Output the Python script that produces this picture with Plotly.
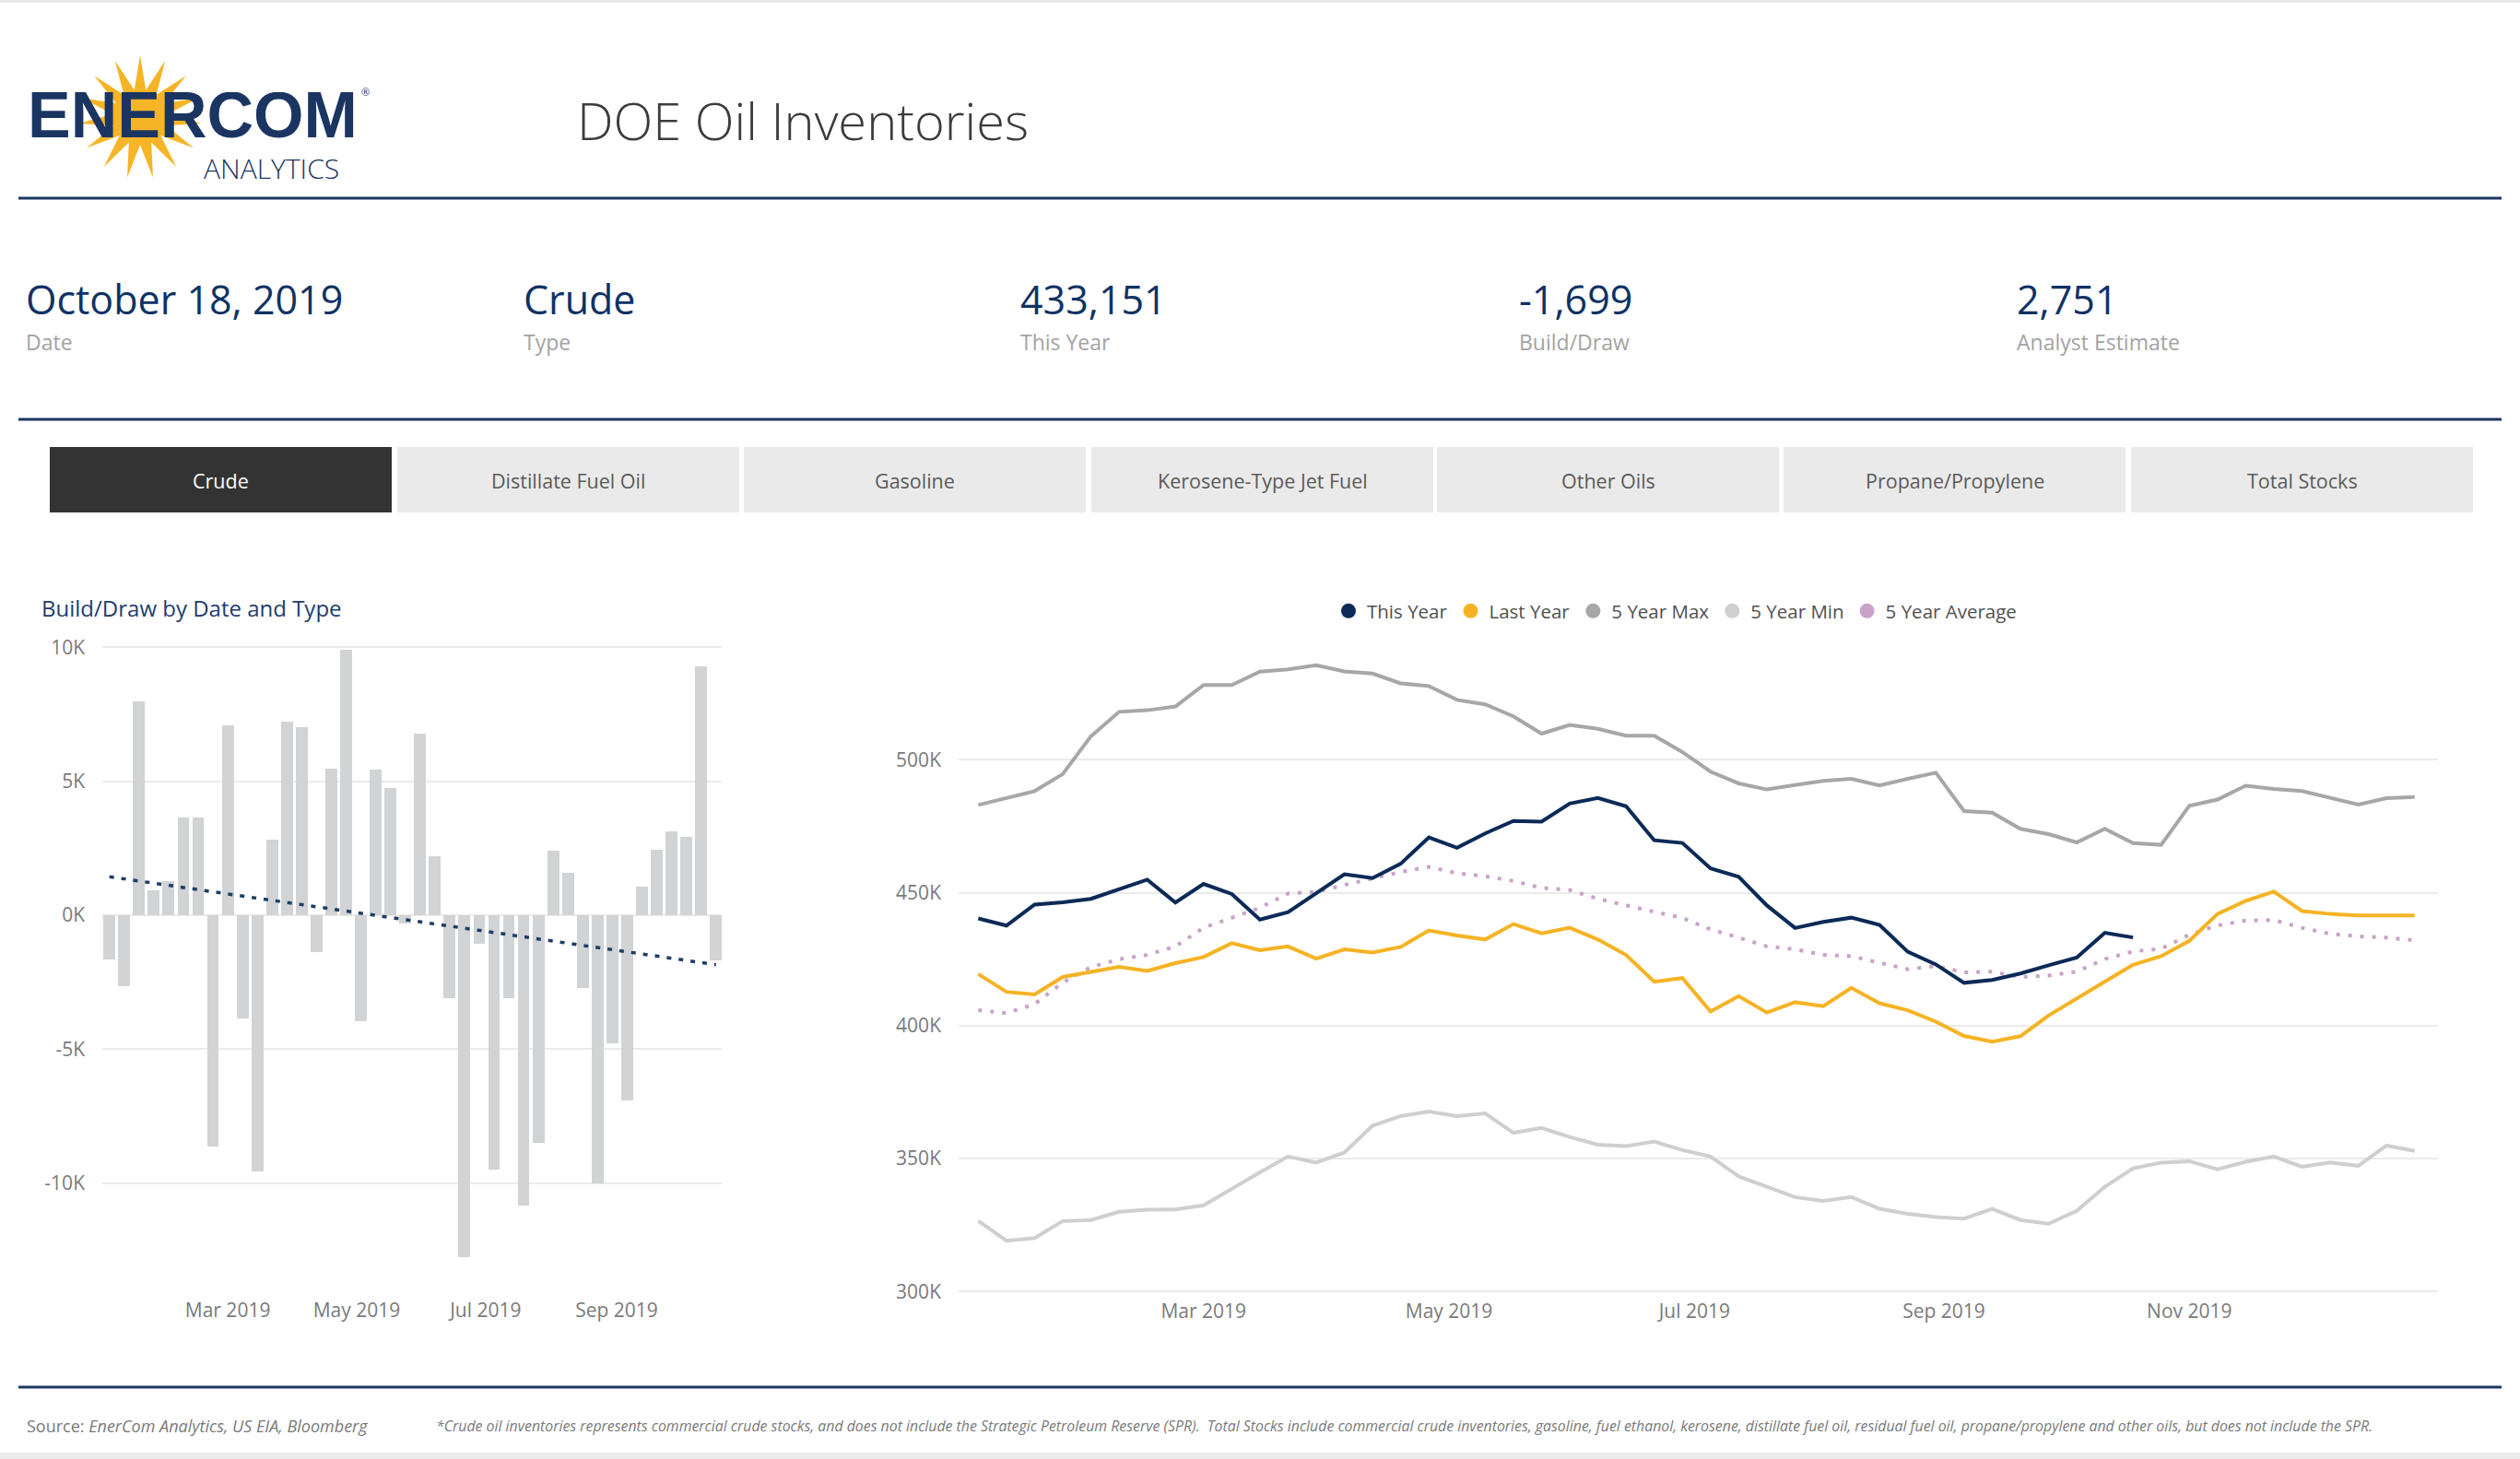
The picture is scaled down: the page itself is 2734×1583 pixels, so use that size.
import numpy as np
import pandas as pd
import plotly.graph_objects as go

W, H = 2734, 1583
FONT = "Open Sans"

# ---------------- data ----------------
weeks = pd.date_range("2019-01-04", periods=52, freq="7D")

# weekly build/draw, thousand barrels (42 weeks, Jan 4 - Oct 18 2019)
build_draw = [-1680, -2680, 7950, 900, 1240, 3620, 3640, -8650, 7060, -3860,
              -9600, 2790, 7210, 7010, -1410, 5460, 9910, -3960, 5410, 4720,
              -310, 6760, 2180, -3120, -12790, -1080, -9510, -3120, -10850, -8520,
              2380, 1570, -2740, -10040, -4790, -6920, 1050, 2410, 3100, 2920,
              9260, -1699]

# inventories, thousand barrels
this_year = [440.3, 437.6, 445.5, 446.4, 447.7, 451.3, 454.9, 446.3, 453.3, 449.5,
             439.9, 442.7, 449.9, 456.9, 455.5, 460.9, 470.8, 466.9, 472.3, 477.0,
             476.7, 483.5, 485.6, 482.5, 469.7, 468.7, 459.1, 456.0, 445.2, 436.7,
             439.0, 440.6, 437.9, 427.8, 423.0, 416.1, 417.2, 419.6, 422.7, 425.6,
             434.9, 433.151]
last_year = [419.4, 412.7, 411.7, 418.3, 420.2, 422.1, 420.6, 423.5, 425.8, 431.0,
             428.4, 429.8, 425.2, 428.7, 427.5, 429.6, 435.8, 433.9, 432.4, 438.2,
             434.7, 436.8, 432.4, 426.6, 416.5, 417.9, 405.3, 411.1, 404.9, 408.8,
             407.3, 414.2, 408.4, 405.8, 401.5, 396.1, 394.0, 396.0, 403.8, 410.2,
             416.5, 422.9, 426.1, 431.9, 442.0, 446.9, 450.4, 443.1, 442.0, 441.4,
             441.4, 441.4]
max5 = [483.0, 485.5, 488.2, 494.6, 508.8, 518.0, 518.6, 520.0, 528.1, 528.1,
        533.1, 534.0, 535.5, 533.2, 532.4, 528.7, 527.7, 522.5, 520.8, 516.3,
        509.8, 513.1, 511.6, 509.0, 509.0, 502.9, 495.5, 491.1, 488.8, 490.5,
        492.0, 492.8, 490.3, 492.8, 495.1, 480.7, 480.1, 474.0, 472.0, 468.9,
        474.0, 468.6, 468.0, 482.7, 485.0, 490.2, 489.0, 488.2, 485.7, 483.1,
        485.5, 486.0]
min5 = [326.6, 319.1, 320.1, 326.5, 326.9, 330.0, 330.8, 330.9, 332.4, 338.7,
        344.8, 350.8, 348.5, 352.3, 362.4, 366.0, 367.7, 366.0, 367.0, 359.7,
        361.5, 358.1, 355.2, 354.7, 356.4, 353.2, 350.8, 343.3, 339.4, 335.5,
        334.1, 335.5, 331.1, 329.2, 328.0, 327.4, 331.1, 326.9, 325.5, 330.3,
        339.4, 346.3, 348.5, 349.0, 346.0, 348.8, 350.8, 346.9, 348.5, 347.3,
        354.9, 352.9]
avg5 = [405.8, 404.7, 408.1, 416.2, 422.0, 425.0, 426.6, 429.8, 436.8, 440.5,
        444.3, 449.7, 450.3, 452.9, 455.5, 457.8, 459.7, 457.3, 456.2, 454.4,
        451.8, 451.0, 447.7, 445.1, 442.8, 440.5, 436.2, 433.1, 429.8, 428.7,
        426.6, 426.1, 423.5, 421.2, 422.4, 420.0, 420.3, 418.3, 418.8, 420.3,
        425.0, 427.9, 428.9, 434.2, 437.7, 439.5, 439.7, 436.8, 434.5, 433.6,
        433.1, 432.1]

bar_ticks = [-10000, -5000, 0, 5000, 10000]
bar_ticktext = ["-10K", "-5K", "0K", "5K", "10K"]
inv_ticks = [300, 350, 400, 450, 500]
inv_ticktext = ["300K", "350K", "400K", "450K", "500K"]
bar_xticks = ["2019-03-01", "2019-05-01", "2019-07-01", "2019-09-01"]
inv_xticks = ["2019-03-01", "2019-05-01", "2019-07-01", "2019-09-01", "2019-11-01"]

kpi_values = ["October 18, 2019", "Crude", "433,151", "-1,699", "2,751"]
kpi_labels = ["Date", "Type", "This Year", "Build/Draw", "Analyst Estimate"]
tabs = ["Crude", "Distillate Fuel Oil", "Gasoline", "Kerosene-Type Jet Fuel",
        "Other Oils", "Propane/Propylene", "Total Stocks"]

series = [("5 Year Max", max5, "#a7a7a7", "solid"),
          ("5 Year Min", min5, "#cfcfcf", "solid"),
          ("5 Year Average", avg5, "#c9a3c8", "4px,9px"),
          ("Last Year", last_year, "#f5b324", "solid"),
          ("This Year", this_year, "#0b2a57", "solid")]
legend_order = ["This Year", "Last Year", "5 Year Max", "5 Year Min", "5 Year Average"]

# ---------------- helpers ----------------
def px(x):
    return x / W

def py(y):
    return 1 - y / H

fig = go.Figure()

# ---------------- bar chart ----------------
fig.add_trace(go.Bar(x=weeks[:len(build_draw)], y=build_draw, width=5.6 * 86400000,
                     marker=dict(color="#d1d3d4", line=dict(width=0)),
                     xaxis="x", yaxis="y", showlegend=False, hoverinfo="x+y"))
idx = np.arange(len(build_draw))
slope, icpt = np.polyfit(idx, np.array(build_draw, dtype=float), 1)
fig.add_trace(go.Scatter(x=[weeks[0], weeks[len(build_draw) - 1]],
                         y=[icpt, icpt + slope * idx[-1]], mode="lines",
                         line=dict(color="#1f3e66", width=3.5, dash="5px,8px"),
                         xaxis="x", yaxis="y", showlegend=False, hoverinfo="skip"))

# ---------------- line chart ----------------
for name, vals, col, dash in series:
    fig.add_trace(go.Scatter(x=weeks[:len(vals)], y=vals, mode="lines", name=name,
                             line=dict(color=col, width=4, dash=dash),
                             xaxis="x2", yaxis="y2", showlegend=False))
colmap = {s[0]: s[2] for s in series}
for name in legend_order:
    fig.add_trace(go.Scatter(x=[None], y=[None], mode="markers", name=name,
                             marker=dict(color=colmap[name], size=16, symbol="circle"),
                             xaxis="x2", yaxis="y2", showlegend=True))

axis_font = dict(family=FONT, size=21, color="#7a7a7a")
fig.update_layout(
    template="none",
    width=W, height=H, margin=dict(l=0, r=0, t=0, b=0, pad=0), autosize=False,
    paper_bgcolor="white", plot_bgcolor="white", bargap=0,
    xaxis=dict(domain=[px(111), px(783)], anchor="y", automargin=False,
               range=["2018-12-31 15:20", "2019-10-20 18:00"], type="date",
               tickvals=bar_xticks, tickformat="%b %Y", showgrid=False,
               zeroline=False, showline=False, ticks="", tickfont=axis_font,
               ticklabelstandoff=36),
    yaxis=dict(domain=[py(1370.7), py(699.4)], anchor="x", range=[-13000, 10100],
               automargin=False,
               tickvals=bar_ticks, ticktext=bar_ticktext, showgrid=True,
               gridcolor="#ebebeb", gridwidth=2, zeroline=False, showline=False,
               ticks="", tickfont=axis_font, ticklabelstandoff=18),
    xaxis2=dict(domain=[px(1040), px(2645)], anchor="y2", automargin=False,
                range=["2018-12-30 02:40", "2020-01-01 19:00"], type="date",
                tickvals=inv_xticks, tickformat="%b %Y", showgrid=False,
                zeroline=False, showline=False, ticks="", tickfont=axis_font,
                ticklabelstandoff=4),
    yaxis2=dict(domain=[py(1404.2), py(703.1)], anchor="x2", range=[299, 542],
                automargin=False,
                tickvals=inv_ticks, ticktext=inv_ticktext, showgrid=True,
                gridcolor="#ebebeb", gridwidth=2, zeroline=False, showline=False,
                ticks="", tickfont=axis_font, ticklabelstandoff=18),
    legend=dict(orientation="h", x=px(1818), xanchor="center", y=py(663),
                yanchor="middle", font=dict(family=FONT, size=20.5, color="#505050"),
                itemwidth=30, bgcolor="rgba(0,0,0,0)", tracegroupgap=0),
    font=dict(family=FONT),
    hovermode="closest",
)

shapes = []
ann = []

# page borders
shapes.append(dict(type="rect", xref="paper", yref="paper", x0=0, x1=1, y0=py(3), y1=1,
                   fillcolor="#e8e8e8", line=dict(width=0), layer="below"))
shapes.append(dict(type="rect", xref="paper", yref="paper", x0=0, x1=1, y0=0, y1=py(1576),
                   fillcolor="#ebebeb", line=dict(width=0), layer="below"))
# rules
for yy in (215, 455, 1505):
    shapes.append(dict(type="line", xref="paper", yref="paper", x0=px(20), x1=px(2714),
                       y0=py(yy), y1=py(yy), line=dict(color="#1d3961", width=3)))

# logo starburst
cx, cy = 152, 127
n_sp = 15
pts = []
for k in range(2 * n_sp):
    ang = np.pi / 2 + k * np.pi / n_sp
    r = 67 if k % 2 == 0 else 30
    pts.append((cx + r * np.cos(ang), cy - r * np.sin(ang)))
path = "M " + " L ".join(f"{px(a):.5f},{py(b):.5f}" for a, b in pts) + " Z"
shapes.append(dict(type="path", xref="paper", yref="paper", path=path,
                   fillcolor="#f6b526", line=dict(width=0), layer="below"))

ann.append(dict(text="<b>ENERCOM</b>", x=px(28), y=py(125), xanchor="left", yanchor="middle",
                height=50, valign="middle",
                font=dict(family="Liberation Sans", size=70, color="#1b3563")))
ann.append(dict(text="ANALYTICS", x=px(219), y=py(183), xanchor="left", yanchor="middle",
                font=dict(family=FONT, size=30, color="#1b3563", weight=300)))
ann.append(dict(text="®", x=px(390), y=py(99), xanchor="left", yanchor="middle",
                font=dict(family=FONT, size=11, color="#1b3563")))
ann.append(dict(text="DOE Oil Inventories", x=px(624), y=py(130), xanchor="left",
                yanchor="middle", font=dict(family=FONT, size=56, color="#3c3c3c", weight=300)))

# KPI row
kpi_x = [26, 566, 1105, 1646, 2186]
for xx, v, l in zip(kpi_x, kpi_values, kpi_labels):
    ann.append(dict(text=v, x=px(xx), y=py(325), xanchor="left", yanchor="middle",
                    font=dict(family=FONT, size=43, color="#0f3265")))
    ann.append(dict(text=l, x=px(xx), y=py(371), xanchor="left", yanchor="middle",
                    font=dict(family=FONT, size=23, color="#a3a3a3")))

# tabs
tab_x0 = [54, 431, 807, 1184, 1559, 1935, 2312]
for i, (x0, t) in enumerate(zip(tab_x0, tabs)):
    x1 = x0 + 371
    shapes.append(dict(type="rect", xref="paper", yref="paper", x0=px(x0), x1=px(x1),
                       y0=py(556), y1=py(485),
                       fillcolor="#333333" if i == 0 else "#eaeaea", line=dict(width=0)))
    ann.append(dict(text=t, x=px((x0 + x1) / 2), y=py(521), xanchor="center",
                    yanchor="middle",
                    font=dict(family=FONT, size=21.5, color="#ffffff" if i == 0 else "#5a5a5a")))

# bar chart title
ann.append(dict(text="Build/Draw by Date and Type", x=px(43), y=py(659), xanchor="left",
                yanchor="middle", font=dict(family=FONT, size=24, color="#1e3d6e")))

# footer
ann.append(dict(text="Source: <i>EnerCom Analytics, US EIA, Bloomberg</i>", x=px(27),
                y=py(1547), xanchor="left", yanchor="middle",
                font=dict(family=FONT, size=18, color="#7a7a7a")))
ann.append(dict(text="<i>*Crude oil inventories represents commercial crude stocks, and does not "
                     "include the Strategic Petroleum Reserve (SPR).&nbsp; Total Stocks include "
                     "commercial crude inventories, gasoline, fuel ethanol, kerosene, distillate "
                     "fuel oil, residual fuel oil, propane/propylene and other oils, but does not "
                     "include the SPR.</i>",
                x=px(471), y=py(1547), xanchor="left", yanchor="middle",
                font=dict(family=FONT, size=15.85, color="#7a7a7a")))

for a in ann:
    a.update(xref="paper", yref="paper", showarrow=False)

fig.update_layout(shapes=shapes, annotations=ann)
fig.write_html("out.html", config={"displayModeBar": False},
               post_script="document.body.style.margin='0px';"
                           "document.body.style.overflow='hidden';")
